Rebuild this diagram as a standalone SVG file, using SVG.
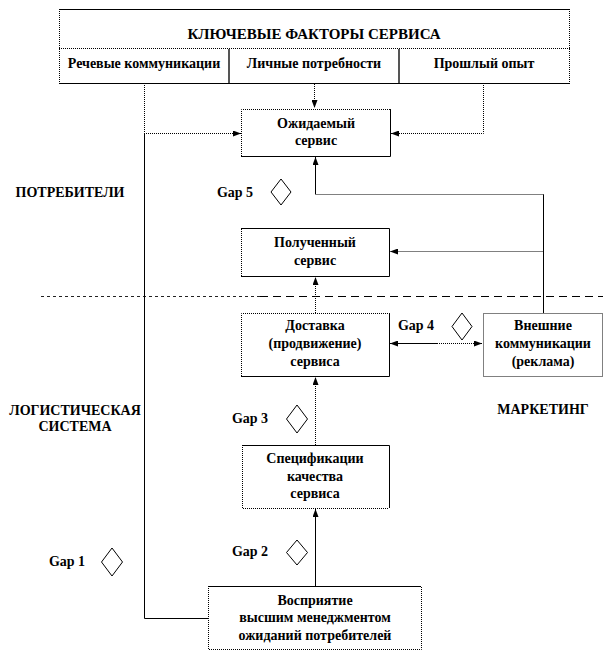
<svg xmlns="http://www.w3.org/2000/svg" width="613" height="658" viewBox="0 0 613 658">
<defs>
<style>
text{font-family:"Liberation Serif","Times New Roman",serif;font-weight:bold;font-size:14px;fill:#000;text-anchor:middle}
.h{font-size:15px}
.s{fill:none;stroke:#000;stroke-width:1}
.d{fill:none;stroke:#000;stroke-width:1;stroke-dasharray:1 1}
.g{fill:none;stroke:#555;stroke-width:2}
.bg{fill:#fff;stroke:none}
.dm{fill:#fff;stroke:#000;stroke-width:1}
</style>
<marker id="a" viewBox="0 0 8 6" refX="8" refY="3" markerWidth="8" markerHeight="6" markerUnits="userSpaceOnUse" orient="auto-start-reverse">
<path d="M0,0 L8,3 L0,6 Z" fill="#000"/>
</marker>
</defs>
<rect width="613" height="658" fill="#fff"/>

<g id="separator">
<path d="M41,296.5 H260" fill="none" stroke="#222" stroke-width="1" stroke-dasharray="3 3"/>
<path d="M260,296.5 H603" fill="none" stroke="#000" stroke-width="1" stroke-dasharray="8 5"/>
</g>

<g id="connectors">
<path class="s" d="M208,618.5 H144.5 V133"/>
<path class="d" d="M144.5,83 V133.5 H241" marker-end="url(#a)"/>
<path class="d" d="M314.5,84 V108" marker-end="url(#a)"/>
<path class="d" d="M483.5,83 V133.5 H391" marker-end="url(#a)"/>
<path class="s" d="M543.5,313 V194.5"/>
<path class="d" d="M543.5,194.5 H315.5"/>
<path class="s" d="M315.5,194.5 V157" marker-end="url(#a)"/>
<path class="d" d="M543.5,251.5 H390" marker-end="url(#a)"/>
<path class="d" d="M315.5,313 V277" marker-end="url(#a)"/>
<path class="s" d="M437,343.5 H390" marker-end="url(#a)"/>
<path class="d" d="M437,343.5 H482" marker-end="url(#a)"/>
<path class="d" d="M315.5,445 V377" marker-end="url(#a)"/>
<path class="s" d="M315.5,586 V509" marker-end="url(#a)"/>
</g>

<g id="key-factors">
<rect class="bg" x="59" y="9" width="511" height="75"/>
<path class="s" d="M59,9.5 H570"/>
<path class="d" d="M59.5,9 V84"/>
<path class="d" d="M569.5,9 V84"/>
<path class="s" d="M59,83.5 H570"/>
<path class="d" d="M59,48.5 H570" stroke-width="2"/>
<path class="g" d="M229,49 V83 M399,49 V83"/>
<text class="h" x="314" y="38.5">КЛЮЧЕВЫЕ  ФАКТОРЫ СЕРВИСА</text>
<text x="144" y="68">Речевые коммуникации</text>
<text x="314" y="68">Личные потребности</text>
<text x="484" y="68">Прошлый опыт</text>
</g>

<g id="expected">
<rect class="bg" x="241" y="109" width="149" height="47"/>
<path class="d" d="M241.5,156 V109.5 H390"/>
<path class="s" d="M390.5,109 V156.5 H241"/>
<text x="316" y="127.5">Ожидаемый</text>
<text x="316" y="144.5">сервис</text>
</g>

<g id="received">
<rect class="bg" x="241" y="228" width="148" height="48"/>
<path class="d" d="M241.5,276 V228"/>
<path class="s" d="M241,228.5 H389.5 V276.5 H241"/>
<text x="315" y="246.5">Полученный</text>
<text x="315" y="264.5">сервис</text>
</g>

<g id="delivery">
<rect class="bg" x="241" y="313" width="148" height="63"/>
<path class="d" d="M241.5,376 V313.5 H389"/>
<path class="s" d="M389.5,313 V376.5 H241"/>
<text x="315" y="329.5">Доставка</text>
<text x="315" y="347.5">(продвижение)</text>
<text x="315" y="366">сервиса</text>
</g>

<g id="external">
<rect class="bg" x="483" y="313" width="120" height="63"/>
<path class="d" d="M483.5,313.5 H602.5 V376.5 H483.5 Z"/>
<text x="543" y="329.5">Внешние</text>
<text x="543" y="347.5">коммуникации</text>
<text x="543" y="366">(реклама)</text>
</g>

<g id="specs">
<rect class="bg" x="242" y="445" width="147" height="63"/>
<path class="d" d="M242.5,445 V508.5 H389"/>
<path class="s" d="M242,445.5 H389.5 V508"/>
<text x="315" y="462.5">Спецификации</text>
<text x="315" y="480.5">качества</text>
<text x="315" y="497.5">сервиса</text>
</g>

<g id="perception">
<rect class="bg" x="208" y="586" width="214" height="63"/>
<path class="s" d="M208,586.5 H421"/>
<path class="d" d="M208.5,586 V649.5 H421.5 V586"/>
<text x="315" y="604.5">Восприятие</text>
<text x="315" y="622">высшим менеджментом</text>
<text x="315" y="639.5">ожиданий  потребителей</text>
</g>

<g id="labels">
<text x="70" y="196.5">ПОТРЕБИТЕЛИ</text>
<text x="75" y="415">ЛОГИСТИЧЕСКАЯ</text>
<text x="75" y="431">СИСТЕМА</text>
<text x="543" y="414">МАРКЕТИНГ</text>
</g>

<g id="gap5"><text x="235" y="196.5">Gap 5</text><path class="dm" d="M281,179 L291,192 L281,205 L271,192 Z"/></g>
<g id="gap4"><text x="416" y="330">Gap 4</text><path class="dm" d="M462,313 L472,326.5 L462,340 L452,326.5 Z"/></g>
<g id="gap3"><text x="250" y="423">Gap 3</text><path class="dm" d="M297,405 L307.5,419 L297,433 L286.5,419 Z"/></g>
<g id="gap2"><text x="250" y="556">Gap 2</text><path class="dm" d="M297,540 L307.5,552.5 L297,565 L286.5,552.5 Z"/></g>
<g id="gap1"><text x="67" y="566">Gap 1</text><path class="dm" d="M112,548 L122.5,562 L112,576 L101.5,562 Z"/></g>
</svg>
